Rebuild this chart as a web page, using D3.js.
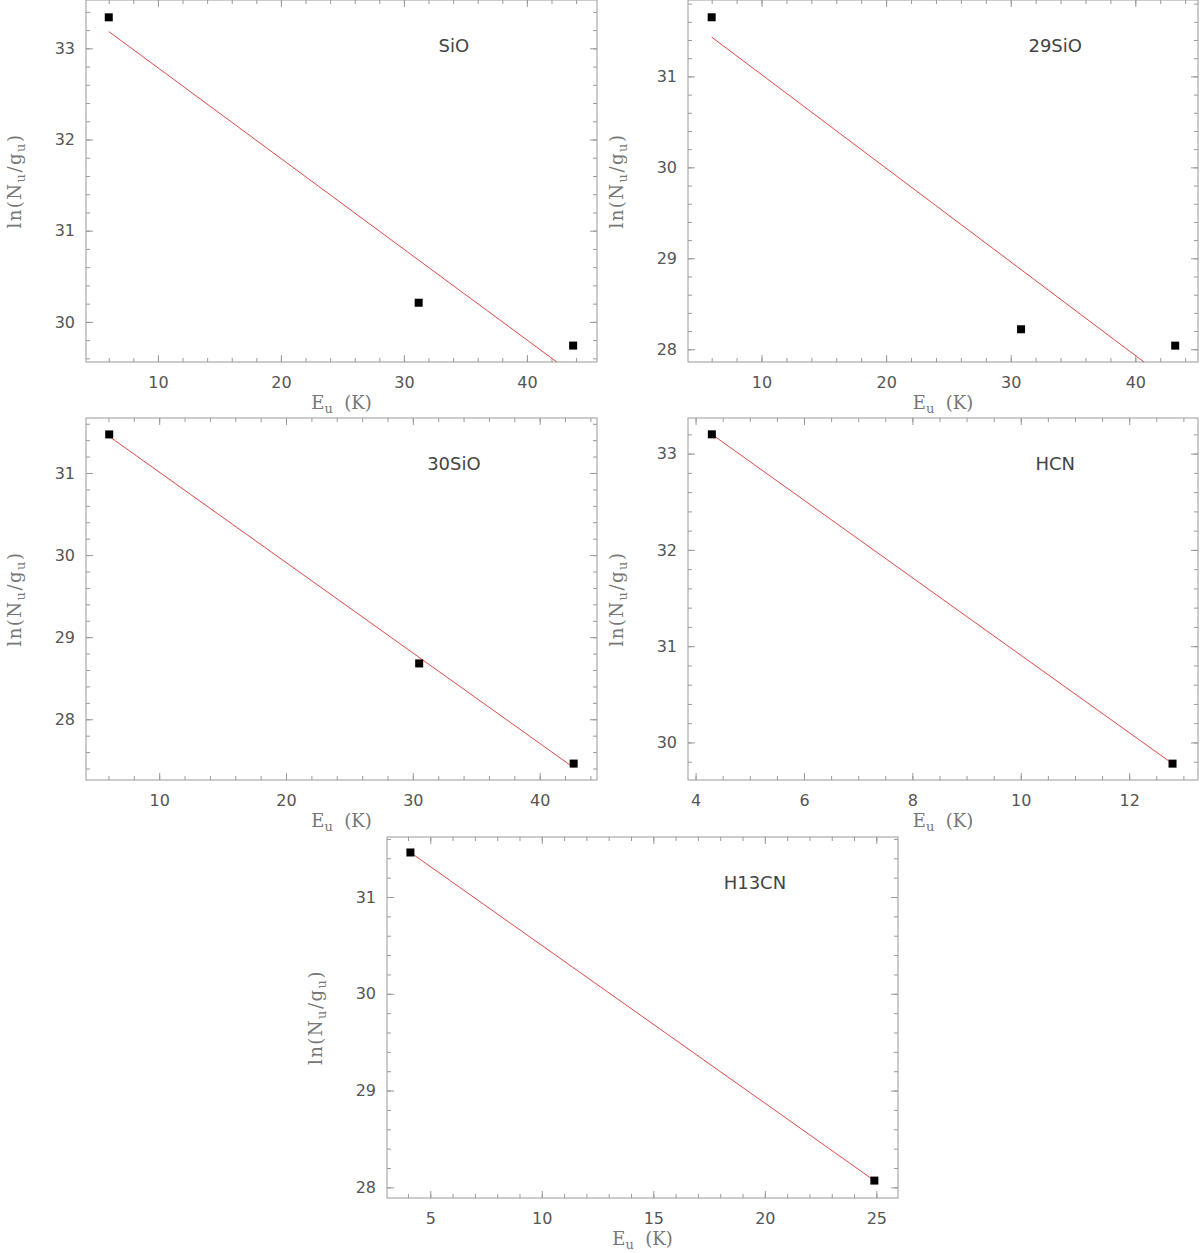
<!DOCTYPE html>
<html>
<head>
<meta charset="utf-8">
<script src="https://cdn.jsdelivr.net/npm/d3@7"></script>
<style>
  body { margin: 0; background: #fff; }
  svg { display: block; }
  .tick text { font-family: "DejaVu Sans", sans-serif; font-size: 16px; fill: #555; }
  .label { font-family: "DejaVu Serif", serif; font-size: 18px; fill: #777; }
  .title { font-family: "DejaVu Sans", sans-serif; font-size: 18px; fill: #444; }
</style>
</head>
<body>
<svg id="diagrams" width="1200" height="1253"></svg>
<script>
// rotation diagrams, one panel per molecule
const molecules = ['SiO', '29SiO', '30SiO', 'HCN', 'H13CN'];

// upper level energy E_u (K)
const energies = [
    [6.0, 31.2, 43.76],
    [6.0, 30.83, 43.2],
    [6.06, 30.5, 42.68],
    [4.30, 12.80],
    [4.11, 24.91]
];

// ln(N_u/g_u)
const lnNg = [
    [33.34, 30.21, 29.74],
    [31.65, 28.22, 28.04],
    [31.47, 28.68, 27.46],
    [33.2, 29.78],
    [31.46, 28.07]
];

const xDomains = [[4.15, 45.7], [4.1, 45.03], [4.23, 44.52], [3.86, 13.27], [3.06, 25.97]];
const yDomains = [[29.56, 33.53], [27.86, 31.84], [27.26, 31.67], [29.61, 33.37], [27.89, 31.62]];
const xMajorSteps = [10, 10, 10, 2, 5];
const xMinorSteps = [2, 2, 2, 0.5, 1];
const yMajorStep = 1;
const yMinorStep = 0.2;

// panel boxes on the page
const boxes = [
    {x: 86, y: 0, w: 511, h: 362},
    {x: 688, y: 0, w: 510, h: 362},
    {x: 86, y: 418, w: 511, h: 362},
    {x: 688, y: 418, w: 510, h: 362},
    {x: 387, y: 837, w: 511, h: 361}
];

function stepValues(domain, step) {
    const lo = Math.ceil(domain[0] / step - 1e-9);
    const hi = Math.floor(domain[1] / step + 1e-9);
    return d3.range(lo, hi + 1).map(function (i) { return +(i * step).toFixed(4); });
}

// plain least squares fit, as done for the diagram
function fit(xs, ys) {
    const mx = d3.mean(xs), my = d3.mean(ys);
    let sxy = 0, sxx = 0;
    xs.forEach(function (x, i) {
        sxy += (x - mx) * (ys[i] - my);
        sxx += (x - mx) * (x - mx);
    });
    const slope = sxy / sxx;
    return {slope: slope, intercept: my - slope * mx};
}

const svg = d3.select('#diagrams');

svg.selectAll('g.panel')
    .data(molecules)
    .enter()
    .append('g')
    .attr('class', 'panel')
    .each(addPanel);

function addPanel(name, index) {
    const g = d3.select(this);
    const box = boxes[index];
    g.attr('transform', 'translate(' + box.x + ',' + box.y + ')');

    const x = d3.scaleLinear().domain(xDomains[index]).range([0, box.w]);
    const y = d3.scaleLinear().domain(yDomains[index]).range([box.h, 0]);

    const xMajor = stepValues(xDomains[index], xMajorSteps[index]);
    const xMinor = stepValues(xDomains[index], xMinorSteps[index]);
    const yMajor = stepValues(yDomains[index], yMajorStep);
    const yMinor = stepValues(yDomains[index], yMinorStep);

    const axes = [
        {axis: d3.axisBottom(x), t: [0, box.h], major: xMajor, minor: xMinor, labels: true, pad: 15},
        {axis: d3.axisTop(x), t: [0, 0], major: xMajor, minor: xMinor, labels: false, pad: 3},
        {axis: d3.axisLeft(y), t: [0, 0], major: yMajor, minor: yMinor, labels: true, pad: 11},
        {axis: d3.axisRight(y), t: [box.w, 0], major: yMajor, minor: yMinor, labels: false, pad: 3}
    ];

    axes.forEach(function (a) {
        g.append('g')
            .attr('transform', 'translate(' + a.t[0] + ',' + a.t[1] + ')')
            .call(a.axis.tickValues(a.minor).tickSize(-4).tickFormat(''));
        g.append('g')
            .attr('transform', 'translate(' + a.t[0] + ',' + a.t[1] + ')')
            .call(a.axis.tickValues(a.major).tickSize(-7)
                .tickPadding(a.pad)
                .tickFormat(a.labels ? d3.format('d') : ''));
    });
    g.selectAll('.tick line').attr('stroke', '#999');
    g.selectAll('.domain').remove();

    g.append('rect')
        .attr('width', box.w)
        .attr('height', box.h)
        .attr('fill', 'none')
        .attr('stroke', '#999');

    const clipId = 'clip' + index;
    g.append('clipPath')
        .attr('id', clipId)
        .append('rect')
        .attr('width', box.w)
        .attr('height', box.h);

    const xs = energies[index], ys = lnNg[index];
    const f = fit(xs, ys);
    const ends = d3.extent(xs);
    g.append('line')
        .attr('clip-path', 'url(#' + clipId + ')')
        .attr('x1', x(ends[0]))
        .attr('y1', y(f.intercept + f.slope * ends[0]))
        .attr('x2', x(ends[1]))
        .attr('y2', y(f.intercept + f.slope * ends[1]))
        .attr('stroke', '#e04848')
        .attr('stroke-width', 1);

    g.selectAll('rect.point')
        .data(xs)
        .enter()
        .append('rect')
        .attr('class', 'point')
        .attr('x', function (d) { return x(d) - 4; })
        .attr('y', function (d, i) { return y(ys[i]) - 4; })
        .attr('width', 8)
        .attr('height', 8)
        .attr('fill', '#000');

    g.append('text')
        .attr('class', 'title')
        .attr('x', box.w * 0.72)
        .attr('y', 52)
        .attr('text-anchor', 'middle')
        .text(name);

    const xl = g.append('text')
        .attr('class', 'label')
        .attr('x', box.w / 2)
        .attr('y', box.h + 47)
        .attr('text-anchor', 'middle');
    xl.append('tspan').text('E');
    xl.append('tspan').attr('font-size', '13px').attr('dy', 4).text('u');
    xl.append('tspan').attr('dy', -4).text('\u00a0\u00a0(K)');

    const yl = g.append('text')
        .attr('class', 'label')
        .attr('transform', 'translate(-65,' + box.h / 2 + ') rotate(-90)')
        .attr('text-anchor', 'middle')
        .attr('letter-spacing', 1.5);
    yl.append('tspan').text('ln(N');
    yl.append('tspan').attr('font-size', '13px').attr('dy', 4).text('u');
    yl.append('tspan').attr('dy', -4).text('/g');
    yl.append('tspan').attr('font-size', '13px').attr('dy', 4).text('u');
    yl.append('tspan').attr('dy', -4).text(')');
}
</script>
</body>
</html>
